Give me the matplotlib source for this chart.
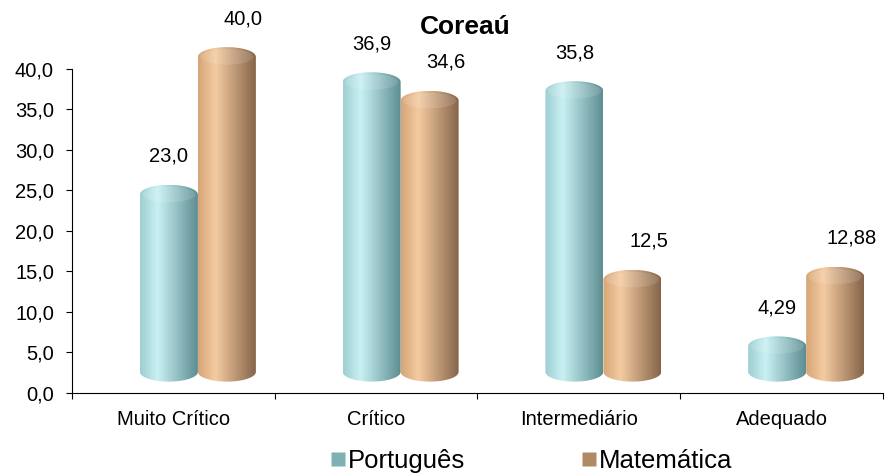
import numpy as np
import matplotlib; matplotlib.use("Agg")
import matplotlib.pyplot as plt
from matplotlib.path import Path
from matplotlib.patches import PathPatch, Ellipse
from matplotlib.colors import to_rgb
from matplotlib.lines import Line2D

plt.rcParams.update({"font.family": ["Liberation Sans", "DejaVu Sans"], "font.size": 14})

categories = ["Muito Crítico", "Crítico", "Intermediário", "Adequado"]
portugues = [23.0, 36.9, 35.8, 4.29]
matematica = [40.0, 34.6, 12.5, 12.88]
port_labels = ["23,0", "36,9", "35,8", "4,29"]
mat_labels = ["40,0", "34,6", "12,5", "12,88"]
series_names = ["Português", "Matemática"]
yticks = [0, 5, 10, 15, 20, 25, 30, 35, 40]

# left / highlight / right shading of the cylinders
TEAL = ["#9fcfd2", "#c9f1f3", "#5e8e93"]
TAN = ["#d6a677", "#f4cba1", "#86654a"]


def gradient(stops, n=64):
    c = [np.array(to_rgb(s)) for s in stops]
    t = np.linspace(0, 1, n)
    out = np.zeros((1, n, 3))
    for k, tt in enumerate(t):
        if tt < 0.3:
            f = tt / 0.3; col = c[0] * (1 - f) + c[1] * f
        else:
            f = (tt - 0.3) / 0.7; col = c[1] * (1 - f) + c[2] * f
        out[0, k] = col
    return out


def cylinder(ax, x0, w, value, stops, base=2.6, lift=1.5, r=1.2):
    xc = x0 + w / 2
    top = value + lift
    th = np.linspace(np.pi, 2 * np.pi, 40)
    bx = xc + w / 2 * np.cos(th); by = base + r * np.sin(th)
    th2 = np.linspace(0, np.pi, 40)
    tx = xc + w / 2 * np.cos(th2); ty = top + r * np.sin(th2)
    verts = np.vstack([np.column_stack([bx, by]), np.column_stack([tx, ty]), [[bx[0], by[0]]]])
    codes = [Path.MOVETO] + [Path.LINETO] * (len(verts) - 2) + [Path.CLOSEPOLY]
    patch = PathPatch(Path(verts, codes), facecolor="none", edgecolor="none")
    ax.add_patch(patch)
    im = ax.imshow(gradient(stops), extent=[x0, x0 + w, base - r, top + r],
                   aspect="auto", interpolation="bilinear", zorder=2)
    im.set_clip_path(patch)
    cap = Ellipse((xc, top), w * 0.92, r * 1.6, facecolor="white", alpha=0.12,
                  edgecolor="none", zorder=3)
    ax.add_patch(cap)


fig = plt.figure(figsize=(8.93, 4.74), dpi=100)
ax = fig.add_axes([0.0806, 0.171, 0.9082, 0.786])

w = 0.286
for i in range(len(categories)):
    for j, (vals, labs, stops) in enumerate([(portugues, port_labels, TEAL), (matematica, mat_labels, TAN)]):
        x0 = i + 0.335 + j * w
        cylinder(ax, x0, w, vals[i], stops)
        ax.text(x0 + w / 2 + (0.0 if j == 0 else 0.08), vals[i] + 6.2, labs[i],
                ha="center", va="center", fontsize=14.5, zorder=5)

ax.set_xlim(0, 4)
ax.set_ylim(0, 46)
ax.spines["top"].set_visible(False)
ax.spines["right"].set_visible(False)
ax.spines["left"].set_bounds(0, 40)
ax.set_yticks(yticks)
ax.set_yticklabels([f"{v:.1f}".replace(".", ",") for v in yticks], fontsize=14.5)
ax.set_xticks(range(5))
ax.set_xticklabels([])
ax.set_xticks([i + 0.5 for i in range(4)], minor=True)
ax.set_xticklabels(categories, minor=True, fontsize=14.5)
ax.tick_params(axis="x", which="minor", length=0, pad=12)
ax.tick_params(axis="x", which="major", length=4, direction="out")
ax.tick_params(axis="y", length=4, direction="out", pad=9)

fig.text(465 / 893, 1 - 27 / 474, "Coreaú", ha="center", va="center",
         fontsize=19, fontweight="bold")

handles = [Line2D([], [], marker="s", linestyle="none", markersize=10,
                  markerfacecolor="#7fb0b4", markeredgecolor="none"),
           Line2D([], [], marker="s", linestyle="none", markersize=10,
                  markerfacecolor="#b08a63", markeredgecolor="none")]
fig.legend(handles, series_names, loc="center", bbox_to_anchor=(0.595, 0.027), ncol=2,
           frameon=False, fontsize=18.5, handlelength=0.6, handletextpad=0.1,
           columnspacing=4.5)

fig.savefig("out.png", dpi=100)
